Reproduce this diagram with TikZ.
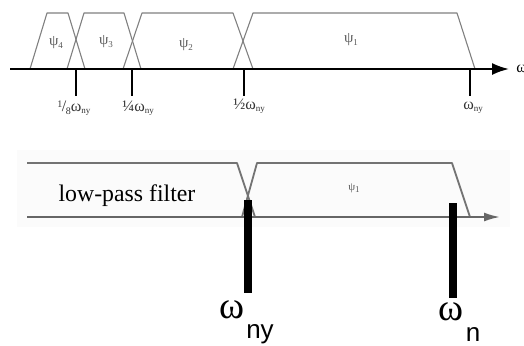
\documentclass[tikz,border=0pt]{standalone}
\usepackage{fontspec}
\setmainfont{Liberation Serif}
\newfontfamily\sansf{Liberation Sans}
\usetikzlibrary{arrows.meta}
\newcommand\fs[1]{\fontsize{#1}{#1}\selectfont}
\newcommand\lsub[1]{\raisebox{-1.3pt}{\fs{4.5}#1}}
\begin{document}
\begin{tikzpicture}[x=0.5pt,y=-0.5pt,
  band/.style={draw=black!50,line width=0.55pt,line join=round},
  bandlow/.style={draw=black!55,line width=0.9pt,line join=round},
  tick/.style={draw=black,line width=0.8pt},
  bar/.style={draw=black,line width=3.6pt},
  psilbl/.style={text=black!65,inner sep=0pt,font=\fs{7.5}},
  ticklbl/.style={text=black!80,inner sep=0pt,font=\fs{8}},
  biglbl/.style={inner sep=0pt}]
\useasboundingbox (0,0) rectangle (524,345);
% ---------- top panel ----------
\coordinate (ta) at (10,69);
\coordinate (tb) at (509,69);
\draw[band] (30,69)--(47,13)--(68,13)--(85,69);
\draw[band] (67,69)--(84,13)--(124,13)--(141,69);
\draw[band] (123,69)--(142,13)--(233,13)--(253,69);
\draw[band] (233,69)--(253,13)--(457,13)--(475,69);
\draw[line width=1pt,-{Latex[length=8.5pt,width=6pt]}] (ta)--(tb);
\node[inner sep=0pt,anchor=west,font=\fs{8}] (wax) at (516,69) {ω};
\foreach \n/\x in {t1/76,t2/132,t3/244,t4/470}{
  \coordinate (\n a) at (\x,69);
  \coordinate (\n b) at (\x,96);
  \draw[tick] (\n a)--(\n b);
}
\node[psilbl] (p4) at (56,43) {ψ\lsub{4}};
\node[psilbl] (p3) at (106,42) {ψ\lsub{3}};
\node[psilbl] (p2) at (186,45) {ψ\lsub{2}};
\node[psilbl] (p1) at (351,40) {ψ\lsub{1}};
\node[ticklbl,anchor=base west] (l1) at (57,111) {\raisebox{2pt}{\fs{5}1}\kern-0.2pt/\kern-0.3pt\raisebox{-1.5pt}{\fs{5}8}ω\lsub{ny}};
\node[ticklbl,anchor=base west] (l2) at (122,111) {¼ω\lsub{ny}};
\node[ticklbl,anchor=base west] (l3) at (233,109) {½ω\lsub{ny}};
\node[ticklbl,anchor=base west] (l4) at (463,109) {ω\lsub{ny}};
% ---------- bottom panel ----------
\fill[black!1.5] (17,150) rectangle (510,227);
\coordinate (ba) at (27,217);
\coordinate (bb) at (500,217);
\draw[bandlow] (27,163)--(237,163)--(255,217);
\draw[bandlow] (242,217)--(257,163)--(452,163)--(470,217);
\draw[draw=black!60,line width=1pt,-{Latex[length=8pt,width=4.5pt]}] (ba)--(bb);
\node[inner sep=0pt,font=\fs{11.9}] (lpf) at (127,196) {low-pass filter};
\node[psilbl,font=\fs{5.5}] (pb1) at (354,188) {ψ\lsub{1}};
\coordinate (b1a) at (248,200);
\coordinate (b1b) at (248,293);
\coordinate (b2a) at (453,203);
\coordinate (b2b) at (453,298);
\draw[bar] (b1a)--(b1b);
\draw[bar] (b2a)--(b2b);
\node[biglbl,font=\fs{19}] (w1) at (232,310) {ω};
\node[biglbl,font=\sansf\fs{13},anchor=base] (w1s) at (260,338) {ny};
\node[biglbl,font=\fs{19}] (w2) at (451,312) {ω};
\node[biglbl,font=\sansf\fs{13},anchor=base] (w2s) at (473,341) {n};
\end{tikzpicture}
\end{document}
